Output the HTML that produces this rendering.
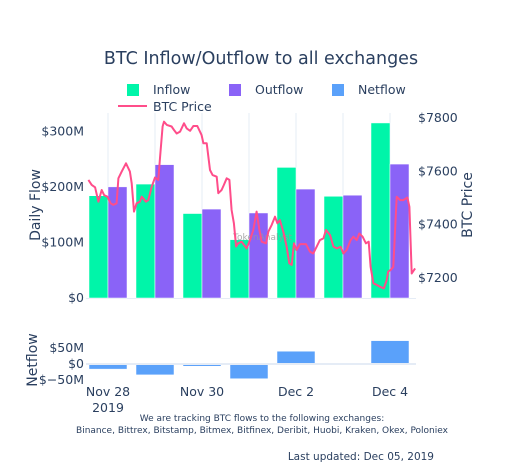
<!DOCTYPE html>
<html><head><meta charset="utf-8"><style>
body{margin:0;background:#fff;}
svg{display:block;font-family:"DejaVu Sans","Liberation Sans",sans-serif;}
</style></head><body>
<svg id="c" width="522" height="471">
<rect x="0" y="0" width="522" height="471" fill="#fff"/>
<text x="261" y="64" font-size="17.5" fill="#2a3f5f" text-anchor="middle">BTC Inflow/Outflow to all exchanges</text>
<g font-size="12.5" fill="#2a3f5f">
<g><rect x="127" y="84" width="12" height="12" fill="#00f5a9"/><text x="153" y="94">Inflow</text></g>
<g><rect x="229" y="84" width="12" height="12" fill="#8a63f7"/><text x="255" y="94">Outflow</text></g>
<g><rect x="332" y="84" width="12" height="12" fill="#5aa1fa"/><text x="358" y="94">Netflow</text></g>
<g><line x1="118" y1="106" x2="147" y2="106" stroke="#ff4d8a" stroke-width="2"/><text x="153" y="111">BTC Price</text></g>
</g>
<g id="grid"></g>
<g id="bars"></g>
<text x="233" y="240" font-size="9" fill="#999" opacity="0.8">TokenAnalyst</text>
<g id="price"></g>
<g id="net"></g>
<g id="axes" font-size="12.5" fill="#2a3f5f"></g>
<text transform="translate(40,205) rotate(-90)" font-size="14" fill="#2a3f5f" text-anchor="middle">Daily Flow</text>
<text transform="translate(472,205) rotate(-90)" font-size="14" fill="#2a3f5f" text-anchor="middle">BTC Price</text>
<text transform="translate(37,360) rotate(-90)" font-size="14" fill="#2a3f5f" text-anchor="middle">Netflow</text>
<text x="262" y="421" font-size="9" fill="#2a3f5f" text-anchor="middle">We are tracking BTC flows to the following exchanges:</text>
<text x="262" y="433" font-size="9" fill="#2a3f5f" text-anchor="middle">Binance, Bittrex, Bitstamp, Bitmex, Bitfinex, Deribit, Huobi, Kraken, Okex, Poloniex</text>
<text x="434" y="460" font-size="10.5" fill="#2a3f5f" text-anchor="end">Last updated: Dec 05, 2019</text>
</svg>
<script>
const days=["Nov 28","Nov 29","Nov 30","Dec 1","Dec 2","Dec 3","Dec 4"];
const inflow=[184,205,152,105,235,183,315];
const outflow=[200,240,160,153,196,185,241];
const netflow=[-16,-34,-7,-46,40,-2,73];
const priceHours=[-10,-8.3,-6.6,-4.9,-3.2,-2,-0.3,1.4,2.7,4.4,5.3,7,9.2,11.2,12.1,13.3,14.6,16.3,17.2,19.4,20.6,22.3,24,25.7,26.6,27.9,28.6,30,32.5,33.7,35.1,36.8,38.8,40.2,41.9,43.6,45.6,47.8,48.7,50.4,52.1,53.4,55.5,56.3,58,59.2,60.6,62,63.1,64.3,65.4,66.5,68.2,70.8,72.5,74.2,75.9,77.3,78.5,80.7,81.9,83.6,85.3,86.5,87.8,89.5,91.2,92.6,93.8,95,96.3,98,101.1,103.1,104.8,106.5,108.2,110,111.3,113.4,115.1,116.8,118.8,120.2,121.9,123.9,125.3,127,128.3,130,131.7,133.1,134.1,135.5,137.2,138.9,140.9,142.3,143.1,144.3,145.7,147.4,149.1,150.8,152.9,153.9,155.1,156.8];
const priceVals=[7568,7549,7540,7486,7530,7511,7505,7480,7474,7480,7574,7599,7630,7599,7555,7449,7480,7486,7505,7486,7492,7542,7577,7568,7655,7768,7786,7774,7768,7755,7742,7749,7780,7761,7752,7770,7770,7736,7705,7705,7605,7586,7580,7518,7530,7549,7574,7568,7455,7405,7318,7330,7336,7311,7342,7380,7449,7380,7336,7330,7374,7399,7430,7405,7417,7374,7318,7255,7249,7330,7305,7327,7327,7299,7292,7317,7342,7349,7380,7361,7318,7311,7317,7292,7305,7342,7355,7342,7367,7355,7330,7336,7242,7180,7174,7167,7161,7192,7224,7230,7242,7505,7492,7492,7502,7467,7217,7236];
const leftTicks=[0,100,200,300];
const rightTicks=[7200,7400,7600,7800];
const netTicks=[-50,0,50];
const xTickIdx=[0,2,4,6];

const NS="http://www.w3.org/2000/svg";
const X0=86,X1=416;
const xd=d=>108+47*d;
const yL=v=>298-v*0.5557;
const yR=p=>118+(7800-p)*0.26667;
const yN=v=>364-v*0.32;
function mk(tag,attrs,parent,txt){const e=document.createElementNS(NS,tag);for(const k in attrs)e.setAttribute(k,attrs[k]);if(txt!==undefined)e.textContent=txt;parent.appendChild(e);return e;}
const grid=document.getElementById('grid'),bars=document.getElementById('bars'),pr=document.getElementById('price'),net=document.getElementById('net'),axes=document.getElementById('axes');
for(let i=0;i<days.length;i++){
  const g=mk('line',{x1:xd(i),x2:xd(i),y1:113,y2:298,stroke:'#e5ecf6','stroke-width':1},grid);
  
  
}
const bl=mk('line',{x1:X0,x2:X1,y1:298.5,y2:298.5,stroke:'#e5ecf6','stroke-width':1},grid);


const bw=19;
for(let i=0;i<days.length;i++){
  const a=mk('rect',{x:xd(i)-bw,y:yL(inflow[i]),width:bw,height:yL(0)-yL(inflow[i]),fill:'#00f5a9',stroke:'#fff','stroke-width':0.5},bars);
  
  
  const b=mk('rect',{x:xd(i),y:yL(outflow[i]),width:bw,height:yL(0)-yL(outflow[i]),fill:'#8a63f7',stroke:'#fff','stroke-width':0.5},bars);
  
  
  const v=netflow[i];
  const n=mk('rect',{x:xd(i)-bw,y:Math.min(yN(v),yN(0)),width:2*bw,height:Math.max(1,Math.abs(yN(v)-yN(0))),fill:'#5aa1fa',stroke:'#fff','stroke-width':0.5},net);
  
  
}
const nz=mk('line',{x1:X0,x2:X1,y1:yN(0),y2:yN(0),stroke:'#e5ecf6','stroke-width':2},net);


let d='';
for(let i=0;i<priceHours.length;i++){d+=(i?'L':'M')+xd(priceHours[i]/24).toFixed(1)+','+yR(priceVals[i]).toFixed(1);}
const pl=mk('path',{d:d,fill:'none',stroke:'#ff4d8a','stroke-width':2,'stroke-linejoin':'round'},pr);


leftTicks.forEach(t=>{
  const e=mk('text',{x:84,y:yL(t)+4,'text-anchor':'end'},axes,'$'+t+(t?'M':''));
  
  
});
rightTicks.forEach(t=>{
  const e=mk('text',{x:418,y:yR(t)+4,'text-anchor':'start'},axes,'$'+t);
  
  
});
netTicks.forEach(t=>{
  const e=mk('text',{x:84,y:yN(t)+4,'text-anchor':'end'},axes,t<0?'$\u2212'+(-t)+'M':'$'+t+(t?'M':''));
  
  
});
xTickIdx.forEach(i=>{
  const e=mk('text',{x:xd(i),y:396,'text-anchor':'middle'},axes,days[i]);
  
  
});
const yr=mk('text',{x:xd(0),y:412,'text-anchor':'middle'},axes,'2019');


</script>
</body></html>
